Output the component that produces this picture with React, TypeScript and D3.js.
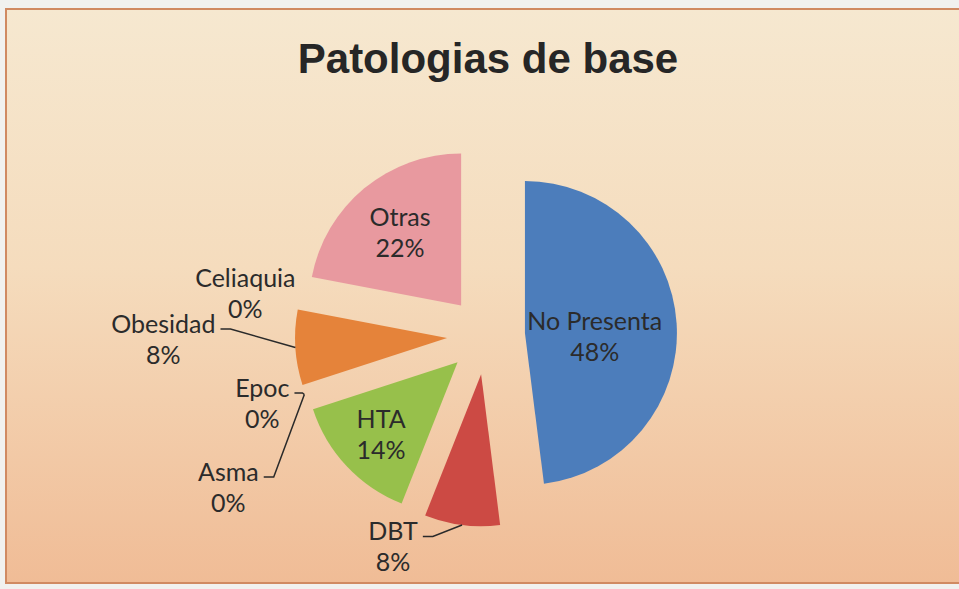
import React from "react";
import * as d3 from "d3";

const categories = ["No Presenta", "DBT", "HTA", "Asma", "Epoc", "Obesidad", "Celiaquia", "Otras"];
const values = [48, 8, 14, 0, 0, 8, 0, 22];
const percentLabels = ["48%", "8%", "14%", "0%", "0%", "8%", "0%", "22%"];
const sliceColors = ["#4c7dbb", "#cc4a44", "#97c04b", "#8064a2", "#4bacc6", "#e5833a", "#2c4d75", "#e8999f"];
const title = "Patologias de base";

const W = 959;
const H = 589;
const CX = 486;
const CY = 335.5;
const R = 152;
const EXPLODE = 39;
const FONT = "Lato, 'Open Sans', sans-serif";
const FS = 25;
const LH = 31;

// label layout: inside labels use radial factor from exploded apex; outside labels use offset from outer anchor
const labelLayout: Record<string, any> = {
  "No Presenta": { inside: true, f: 0.46, dx: 0, dy: 7 },
  Otras: { inside: true, f: 0.63, dx: 0, dy: 0 },
  HTA: { inside: true, f: 0.69, dx: 0, dy: 0 },
  DBT: { inside: false, dx: -69, dy: 21, leader: "elbow" },
  Obesidad: { inside: false, dx: -132, dy: -9, leader: "elbow" },
  Celiaquia: { inside: false, dx: -53, dy: -7, leader: "none" },
  Epoc: { inside: false, dx: -42, dy: 8, leader: "straight" },
  Asma: { inside: false, dx: -76, dy: 92, leader: "elbow" },
};

function measure(text: string): number {
  if (typeof document === "undefined") return text.length * FS * 0.5;
  const c = document.createElement("canvas");
  const ctx = c.getContext("2d");
  if (!ctx) return text.length * FS * 0.5;
  ctx.font = `${FS}px Lato`;
  return ctx.measureText(text).width;
}

export default function App() {
  const pie = d3.pie<number>().sort(null).startAngle(0).endAngle(2 * Math.PI);
  const arcs = pie(values);
  const arcGen = d3.arc<any>().innerRadius(0).outerRadius(R);

  const dir = (a: number) => [Math.sin(a), -Math.cos(a)];

  const slices = arcs.map((a, i) => {
    const mid = (a.startAngle + a.endAngle) / 2;
    const [ux, uy] = dir(mid);
    const ox = CX + ux * EXPLODE;
    const oy = CY + uy * EXPLODE;
    return { a, i, mid, ux, uy, ox, oy };
  });

  const labels = slices.map((s) => {
    const name = categories[s.i];
    const lay = labelLayout[name];
    let lx: number, ly: number;
    const ax = s.ox + s.ux * R;
    const ay = s.oy + s.uy * R;
    if (lay.inside) {
      lx = s.ox + s.ux * R * lay.f + lay.dx;
      ly = s.oy + s.uy * R * lay.f + lay.dy;
    } else {
      lx = ax + lay.dx;
      ly = ay + lay.dy;
    }
    let leader: string | null = null;
    if (!lay.inside && lay.leader !== "none") {
      const w = measure(name);
      const sx = lx + w / 2 + 5;
      const sy = ly - LH / 2 + 6;
      if (lay.leader === "straight") {
        leader = `M${sx},${sy}L${sx + 8},${sy}L${ax},${ay}`;
      } else {
        leader = `M${sx},${sy}L${sx + 10},${sy}L${ax},${ay}`;
      }
    }
    return { name, pct: percentLabels[s.i], lx, ly, leader };
  });

  return (
    <svg
      width={W}
      height={H}
      style={{ position: "fixed", left: 0, top: 0, display: "block" }}
    >
      <defs>
        <linearGradient id="bg" x1="0" y1="0" x2="0" y2="1">
          <stop offset="0%" stopColor="#f6e8d0" />
          <stop offset="45%" stopColor="#f5dcbd" />
          <stop offset="100%" stopColor="#f0bc96" />
        </linearGradient>
      </defs>
      <rect x={0} y={0} width={W} height={H} fill="#f1f1ef" />
      <rect x={6} y={9} width={W} height={574} fill="url(#bg)" stroke="#d08a62" strokeWidth={2} />
      <text
        x={488}
        y={73}
        textAnchor="middle"
        fontFamily="'Liberation Sans', Arial, sans-serif"
        fontWeight="bold"
        fontSize={42}
        fill="#262626"
      >
        {title}
      </text>
      <g>
        {slices.map((s) =>
          values[s.i] > 0 ? (
            <path
              key={categories[s.i]}
              d={arcGen(s.a) as string}
              transform={`translate(${s.ox},${s.oy})`}
              fill={sliceColors[s.i]}
            />
          ) : null
        )}
      </g>
      <g>
        {labels.map((l) =>
          l.leader ? (
            <path key={"ld" + l.name} d={l.leader} fill="none" stroke="#2a2a2a" strokeWidth={1.5} />
          ) : null
        )}
      </g>
      <g fontFamily={FONT} fontSize={FS} fill="#2b2b2b" textAnchor="middle">
        {labels.map((l) => (
          <text key={"lb" + l.name} x={l.lx} y={l.ly}>
            <tspan x={l.lx} y={l.ly - LH / 2} dominantBaseline="central">
              {l.name}
            </tspan>
            <tspan x={l.lx} y={l.ly + LH / 2} dominantBaseline="central">
              {l.pct}
            </tspan>
          </text>
        ))}
      </g>
    </svg>
  );
}
